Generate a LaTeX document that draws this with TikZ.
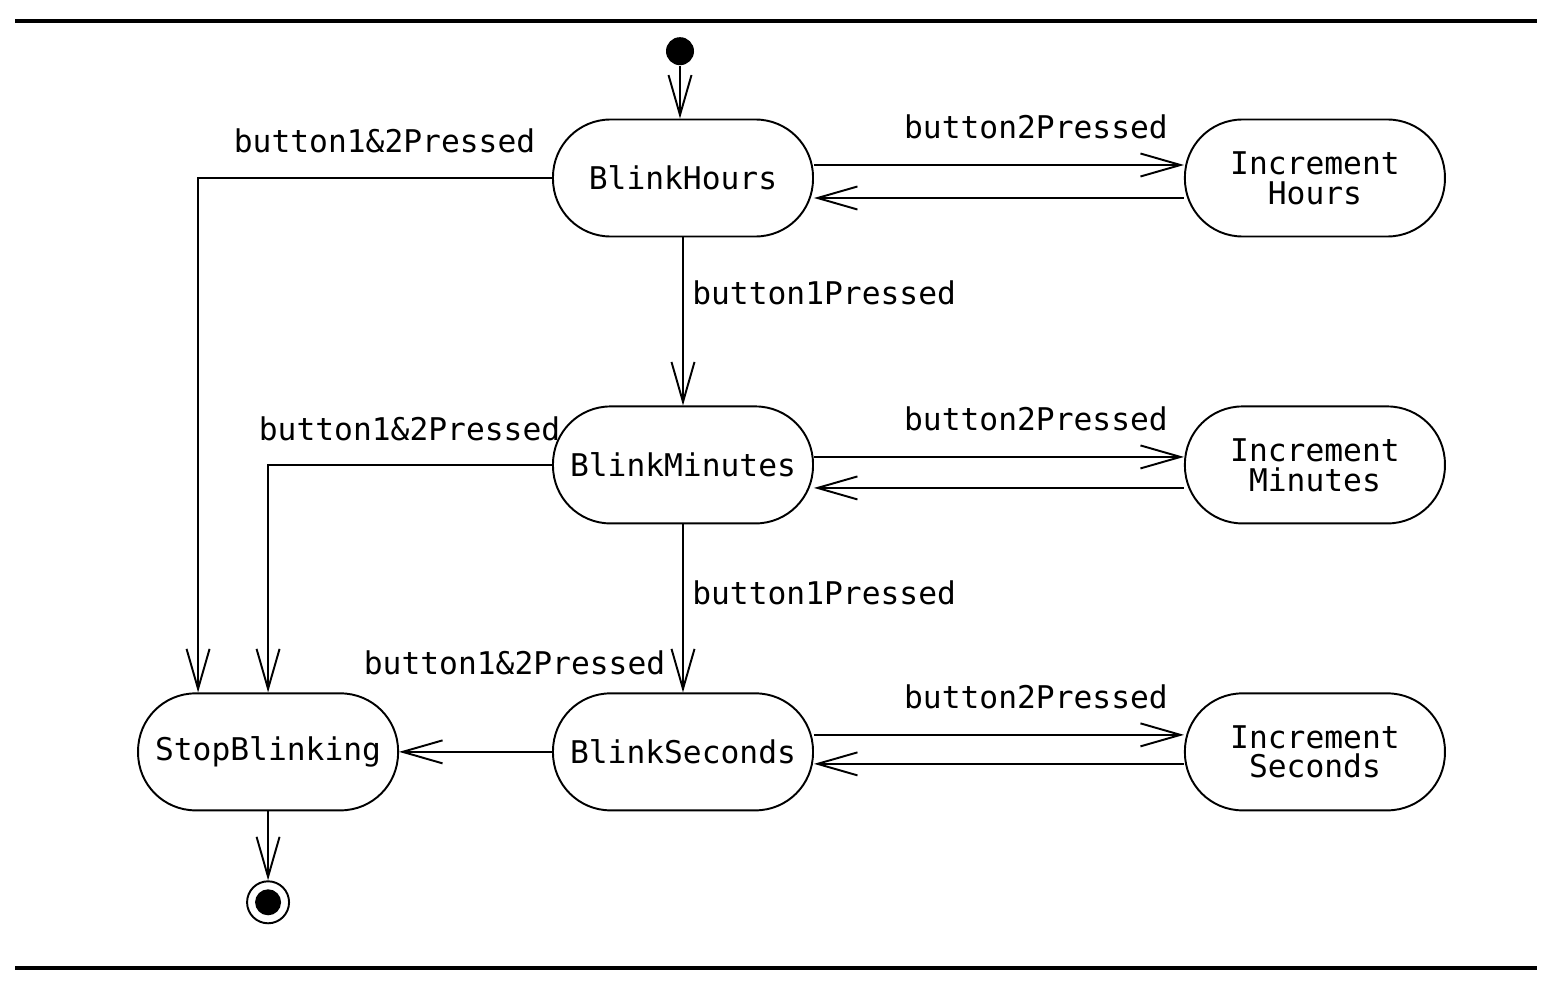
\documentclass[tikz,border=0pt]{standalone}
\usepackage{fontspec}
\setmonofont{DejaVu Sans Mono}
\usepackage{tikz}
\usetikzlibrary{arrows.meta, positioning, calc}
\newcommand\statefont{\ttfamily\fontsize{17.8}{17}\selectfont}
\tikzstyle{state} = [rectangle, rounded corners=1.15cm, minimum width=5.2cm, minimum height=2.34cm, text centered, align=center, draw=black, line width=1.1pt, font=\statefont]
\tikzstyle{initial} = [circle, fill=black, minimum size=0.56cm, inner sep=0pt]
\tikzstyle{final} = [circle, draw=black, line width=1.1pt, minimum size=0.84cm, inner sep=0pt, path picture={\fill[black] (path picture bounding box.center) circle (0.26cm);}]
\tikzstyle{arrow} = [line width=1.1pt, -{Straight Barb[length=0.8cm, width=0.46cm, line width=1.1pt]}]
\tikzstyle{event} = [font=\statefont]
\tikzstyle{rule} = [line width=2.3pt]

\begin{document}
\begin{tikzpicture}[node distance=3.36cm and 7.4cm]
    \useasboundingbox (0,0) rectangle (31.08,-19.72);
    \draw[rule] (0.3,-0.42) -- (30.74,-0.42);
    \draw[rule] (0.3,-19.36) -- (30.74,-19.36);

    % States
    \node[state] (hours) at (13.66,-3.56) {BlinkHours};
    \node[state, right=7.4cm of hours] (inchours) {Increment\\Hours};
    \node[state, below=3.36cm of hours] (minutes) {BlinkMinutes};
    \node[state, right=7.4cm of minutes] (incminutes) {Increment\\Minutes};
    \node[state, below=3.36cm of minutes] (seconds) {BlinkSeconds};
    \node[state, right=7.4cm of seconds] (incseconds) {Increment\\Seconds};
    \node[state, left=3.06cm of seconds] (stop) {StopBlinking};
    \node[initial, above=1.06cm of hours, xshift=-0.06cm] (start) {};
    \node[final, below=1.38cm of stop] (end) {};

    % Transitions
    \draw[arrow] (start) -- (start |- hours.north);
    \draw[arrow] ([yshift=0.26cm]hours.east) -- node[event, above=0.38cm, pos=0.6] {button2Pressed} ([yshift=0.26cm]inchours.west);
    \draw[arrow] ([yshift=-0.4cm]inchours.west) -- ([yshift=-0.4cm]hours.east);
    \draw[arrow] (hours) -- node[event, right=0.05cm, pos=0.33] {button1Pressed} (minutes);
    \draw[arrow] (hours.west) -| node[event, pos=0, anchor=south east, xshift=-0.2cm, yshift=0.36cm] {button1\&2Pressed} ([xshift=-1.4cm]stop.north);

    \draw[arrow] ([yshift=0.16cm]minutes.east) -- node[event, above=0.38cm, pos=0.6] {button2Pressed} ([yshift=0.16cm]incminutes.west);
    \draw[arrow] ([yshift=-0.46cm]incminutes.west) -- ([yshift=-0.46cm]minutes.east);
    \draw[arrow] (minutes) -- node[event, right=0.05cm, pos=0.41] {button1Pressed} (seconds);
    \draw[arrow] (minutes.west) -| node[event, pos=0, anchor=south east, xshift=0.3cm, yshift=0.34cm] {button1\&2Pressed} (stop.north);

    \draw[arrow] ([yshift=0.34cm]seconds.east) -- node[event, above=0.38cm, pos=0.6] {button2Pressed} ([yshift=0.34cm]incseconds.west);
    \draw[arrow] ([yshift=-0.24cm]incseconds.west) -- ([yshift=-0.24cm]seconds.east);
    \draw[arrow] (seconds.west) -- node[event, pos=0, anchor=south east, xshift=2.4cm, yshift=1.4cm] {button1\&2Pressed} (stop.east);
    \draw[arrow] (stop) -- (end);

\end{tikzpicture}
\end{document}
